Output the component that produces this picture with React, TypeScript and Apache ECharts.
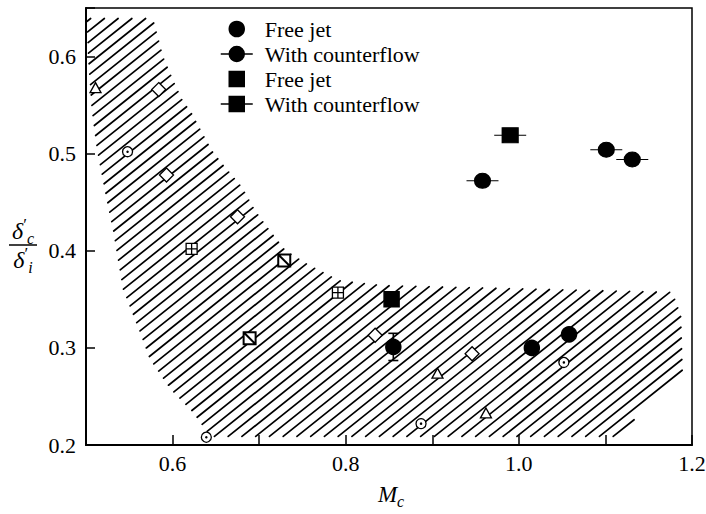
import React, { useEffect, useRef } from "react";
import * as echarts from "echarts";

// Open reference symbols (shaded band data)
const triangleX = [0.511, 0.906, 0.962];
const triangleY = [0.568, 0.274, 0.233];
const dotCircleX = [0.548, 0.639, 0.887, 1.052];
const dotCircleY = [0.502, 0.208, 0.222, 0.285];
const diamondX = [0.584, 0.593, 0.675, 0.834, 0.946];
const diamondY = [0.566, 0.478, 0.435, 0.313, 0.294];
const gridSquareX = [0.622, 0.791];
const gridSquareY = [0.402, 0.357];
const slashSquareX = [0.689, 0.729];
const slashSquareY = [0.31, 0.39];

// Present measurements
const freeJetCircleX = [0.855, 1.015, 1.058];
const freeJetCircleY = [0.301, 0.3, 0.314];
const counterCircleX = [0.958, 1.101, 1.131];
const counterCircleY = [0.472, 0.504, 0.494];
const freeJetSquareX = [0.853];
const freeJetSquareY = [0.35];
const counterSquareX = [0.99];
const counterSquareY = [0.519];

// Vertical uncertainty on the free-jet point
const errorBarX = [0.855];
const errorBarLow = [0.287];
const errorBarHigh = [0.315];

// Outline of the hatched band
const hatchX = [0.5, 0.578, 0.59, 0.603, 0.612, 0.623, 0.635, 0.646, 0.661, 0.681, 0.696, 0.71, 0.731, 0.758, 0.793, 0.843, 1.178, 1.188, 1.19, 1.111, 0.643, 0.623, 0.597, 0.573, 0.562, 0.542, 0.531, 0.523, 0.512, 0.506, 0.502];
const hatchY = [0.64, 0.64, 0.6, 0.573, 0.556, 0.542, 0.522, 0.504, 0.487, 0.466, 0.442, 0.425, 0.401, 0.386, 0.37, 0.365, 0.358, 0.334, 0.272, 0.208, 0.208, 0.233, 0.257, 0.288, 0.315, 0.36, 0.419, 0.453, 0.504, 0.545, 0.597];

const legendLabels: Record<string, string> = {
  freeJetCircle: "Free jet",
  counterCircle: "With counterflow",
  freeJetSquare: "Free jet",
  counterSquare: "With counterflow",
};

const SERIF = "Liberation Serif";

const counterCirclePath =
  "path://M0,7.5H32 M8.5,7.5C8.5,3.36 11.86,0 16,0C20.14,0 23.5,3.36 23.5,7.5C23.5,11.64 20.14,15 16,15C11.86,15 8.5,11.64 8.5,7.5Z";
const counterSquarePath = "path://M0,7.5H32 M8.5,0H23.5V15H8.5Z";
const squarePath = "path://M0,0H15V15H0Z";
const gridSquarePath = "path://M0,0H10V10H0Z M5,0V10 M0,5H10";
const slashSquarePath = "path://M0,0H10V10H0Z M0,0L10,10";

const pairs = (xs: number[], ys: number[]) => xs.map((x, i) => [x, ys[i]]);

// Diagonal hatching clipped to the band outline
function hatchRenderItem(_params: any, api: any) {
  const pts = hatchX.map((x, i) => api.coord([x, hatchY[i]]));
  const slope = 0.8;
  const step = 11;
  const cs = pts.map((p: number[]) => p[1] + slope * p[0]);
  const cMin = Math.min(...cs);
  const cMax = Math.max(...cs);
  const children: any[] = [];
  for (let c = Math.ceil(cMin / step) * step + 3; c <= cMax; c += step) {
    const xs: number[] = [];
    for (let i = 0; i < pts.length; i++) {
      const a = pts[i];
      const b = pts[(i + 1) % pts.length];
      const fa = a[1] + slope * a[0] - c;
      const fb = b[1] + slope * b[0] - c;
      if (fa < 0 !== fb < 0) {
        const t = fa / (fa - fb);
        xs.push(a[0] + t * (b[0] - a[0]));
      }
    }
    xs.sort((p, q) => p - q);
    for (let k = 0; k + 1 < xs.length; k += 2) {
      const x1 = xs[k] + 1;
      const x2 = xs[k + 1] - 1;
      if (x2 <= x1) continue;
      children.push({
        type: "line",
        shape: { x1, y1: c - slope * x1, x2, y2: c - slope * x2 },
        style: { stroke: "#000", lineWidth: 1.7, lineCap: "round" },
      });
    }
  }
  return { type: "group", children };
}

function errorRenderItem(_params: any, api: any) {
  const lo = api.coord([api.value(0), api.value(1)]);
  const hi = api.coord([api.value(0), api.value(2)]);
  const cap = 5;
  const st = { stroke: "#000", lineWidth: 1.6 };
  return {
    type: "group",
    children: [
      { type: "line", shape: { x1: lo[0], y1: lo[1], x2: hi[0], y2: hi[1] }, style: st },
      { type: "line", shape: { x1: lo[0] - cap, y1: lo[1], x2: lo[0] + cap, y2: lo[1] }, style: st },
      { type: "line", shape: { x1: hi[0] - cap, y1: hi[1], x2: hi[0] + cap, y2: hi[1] }, style: st },
    ],
  };
}

const openStyle = { color: "#fff", borderColor: "#000", borderWidth: 1.3, opacity: 1 };
const solidStyle = { color: "#000", borderColor: "#000", borderWidth: 1.5, opacity: 1 };

// Italic symbol with a prime above and a subscript below, laid out as rich text
function symbolText(x: number, y: number, main: string, prime: boolean, sub: string, mainSize: number) {
  const text = prime ? `{m|${main}}{p|′}{s|${sub}}` : `{m|${main}}{s|${sub}}`;
  return {
    type: "text",
    x,
    y,
    silent: true,
    style: {
      text,
      fill: "#000",
      align: "center",
      verticalAlign: "middle",
      textAlign: "center",
      textVerticalAlign: "middle",
      rich: {
        m: {
          fontFamily: SERIF,
          fontStyle: "italic",
          fontSize: mainSize,
          lineHeight: 30,
          verticalAlign: "middle",
          fill: "#000",
          color: "#000",
        },
        p: {
          fontFamily: SERIF,
          fontSize: 17,
          lineHeight: 30,
          verticalAlign: "top",
          fill: "#000",
          color: "#000",
        },
        s: {
          fontFamily: SERIF,
          fontStyle: "italic",
          fontSize: 16,
          lineHeight: 30,
          verticalAlign: "bottom",
          fill: "#000",
          color: "#000",
        },
      },
    },
  };
}

export default function App() {
  const ref = useRef<HTMLDivElement>(null);

  useEffect(() => {
    if (!ref.current) return;
    const chart = echarts.init(ref.current, null, { renderer: "svg" });
    const option: any = {
      animation: false,
      backgroundColor: "#fff",
      textStyle: { fontFamily: SERIF },
      grid: {
        left: 86,
        right: 14,
        top: 8,
        bottom: 69,
        show: true,
        borderColor: "#000",
        borderWidth: 1.5,
        backgroundColor: "transparent",
        outerBoundsMode: "none",
      },
      xAxis: {
        type: "value",
        min: 0.5,
        max: 1.2,
        interval: 0.1,
        splitLine: { show: false },
        axisLine: { show: true, onZero: false, lineStyle: { color: "#000", width: 2 } },
        axisTick: { show: true, inside: true, length: 10, lineStyle: { color: "#000", width: 1.5 } },
        axisLabel: {
          margin: 7,
          color: "#000",
          fontFamily: SERIF,
          fontSize: 22,
          formatter: (v: number) => {
            const k = Math.round(v * 10);
            return k % 2 === 0 && k > 5 ? v.toFixed(1) : "";
          },
        },
      },
      yAxis: {
        type: "value",
        min: 0.2,
        max: 0.65,
        interval: 0.1,
        splitLine: { show: false },
        axisLine: { show: true, onZero: false, lineStyle: { color: "#000", width: 2 } },
        axisTick: { show: true, inside: true, length: 9, lineStyle: { color: "#000", width: 1.5 } },
        axisLabel: {
          margin: 10,
          color: "#000",
          fontFamily: SERIF,
          fontSize: 22,
          formatter: (v: number) => {
            const k = v * 10;
            return Math.abs(k - Math.round(k)) < 1e-6 ? v.toFixed(1) : "";
          },
        },
      },
      legend: {
        orient: "vertical",
        left: 215,
        top: 13,
        itemWidth: 40,
        itemHeight: 15,
        itemGap: 3,
        symbolKeepAspect: true,
        selectedMode: false,
        formatter: (name: string) => legendLabels[name] ?? name,
        textStyle: {
          color: "#000",
          fontFamily: SERIF,
          fontSize: 22,
          lineHeight: 22,
          padding: [0, 0, 0, 3],
        },
        data: [
          { name: "freeJetCircle", icon: "circle", itemStyle: solidStyle },
          { name: "counterCircle", icon: counterCirclePath, itemStyle: solidStyle },
          { name: "freeJetSquare", icon: squarePath, itemStyle: solidStyle },
          { name: "counterSquare", icon: counterSquarePath, itemStyle: solidStyle },
        ],
      },
      series: [
        {
          name: "hatch",
          type: "custom",
          coordinateSystem: "cartesian2d",
          renderItem: hatchRenderItem,
          data: [[hatchX[0], hatchY[0]]],
          encode: { x: 0, y: 1 },
          silent: true,
          clip: true,
          z: 1,
        },
        {
          name: "triangle",
          type: "scatter",
          data: pairs(triangleX, triangleY),
          symbol: "triangle",
          symbolSize: [11, 10],
          itemStyle: openStyle,
          z: 3,
        },
        {
          name: "dotCircle",
          type: "scatter",
          data: pairs(dotCircleX, dotCircleY),
          symbol: "circle",
          symbolSize: 10,
          itemStyle: openStyle,
          z: 3,
        },
        {
          name: "dotCircleCentre",
          type: "scatter",
          data: pairs(dotCircleX, dotCircleY),
          symbol: "circle",
          symbolSize: 2.5,
          itemStyle: { color: "#000", opacity: 1 },
          silent: true,
          z: 4,
        },
        {
          name: "diamond",
          type: "scatter",
          data: pairs(diamondX, diamondY),
          symbol: "diamond",
          symbolSize: 14,
          itemStyle: openStyle,
          z: 3,
        },
        {
          name: "gridSquare",
          type: "scatter",
          data: pairs(gridSquareX, gridSquareY),
          symbol: gridSquarePath,
          symbolSize: 11,
          itemStyle: openStyle,
          z: 3,
        },
        {
          name: "slashSquare",
          type: "scatter",
          data: pairs(slashSquareX, slashSquareY),
          symbol: slashSquarePath,
          symbolSize: 12,
          itemStyle: { color: "#fff", borderColor: "#000", borderWidth: 2, opacity: 1 },
          z: 3,
        },
        {
          name: "errorBar",
          type: "custom",
          coordinateSystem: "cartesian2d",
          renderItem: errorRenderItem,
          data: errorBarX.map((x, i) => [x, errorBarLow[i], errorBarHigh[i]]),
          encode: { x: 0, y: [1, 2] },
          silent: true,
          z: 4,
        },
        {
          name: "freeJetCircle",
          type: "scatter",
          data: pairs(freeJetCircleX, freeJetCircleY),
          symbol: "circle",
          symbolSize: 15,
          itemStyle: solidStyle,
          z: 5,
        },
        {
          name: "counterCircle",
          type: "scatter",
          data: pairs(counterCircleX, counterCircleY),
          symbol: counterCirclePath,
          symbolSize: [32, 15],
          itemStyle: solidStyle,
          z: 5,
        },
        {
          name: "freeJetSquare",
          type: "scatter",
          data: pairs(freeJetSquareX, freeJetSquareY),
          symbol: "rect",
          symbolSize: 15,
          itemStyle: solidStyle,
          z: 5,
        },
        {
          name: "counterSquare",
          type: "scatter",
          data: pairs(counterSquareX, counterSquareY),
          symbol: counterSquarePath,
          symbolSize: [32, 15],
          itemStyle: solidStyle,
          z: 5,
        },
      ],
      graphic: [
        // x-axis title: M with subscript c
        symbolText(391, 494, "M", false, "c", 23),
        // y-axis title: δ'_c over δ'_i
        symbolText(23, 231, "δ", true, "c", 24),
        {
          type: "line",
          silent: true,
          shape: { x1: 9, y1: 245, x2: 37, y2: 245 },
          style: { stroke: "#000", lineWidth: 1.5 },
        },
        symbolText(23, 260, "δ", true, "i", 24),
      ],
    };
    chart.setOption(option);
    return () => chart.dispose();
  }, []);

  return (
    <div
      ref={ref}
      style={{ position: "fixed", left: 0, top: 0, width: 706, height: 514, background: "#fff" }}
    />
  );
}
